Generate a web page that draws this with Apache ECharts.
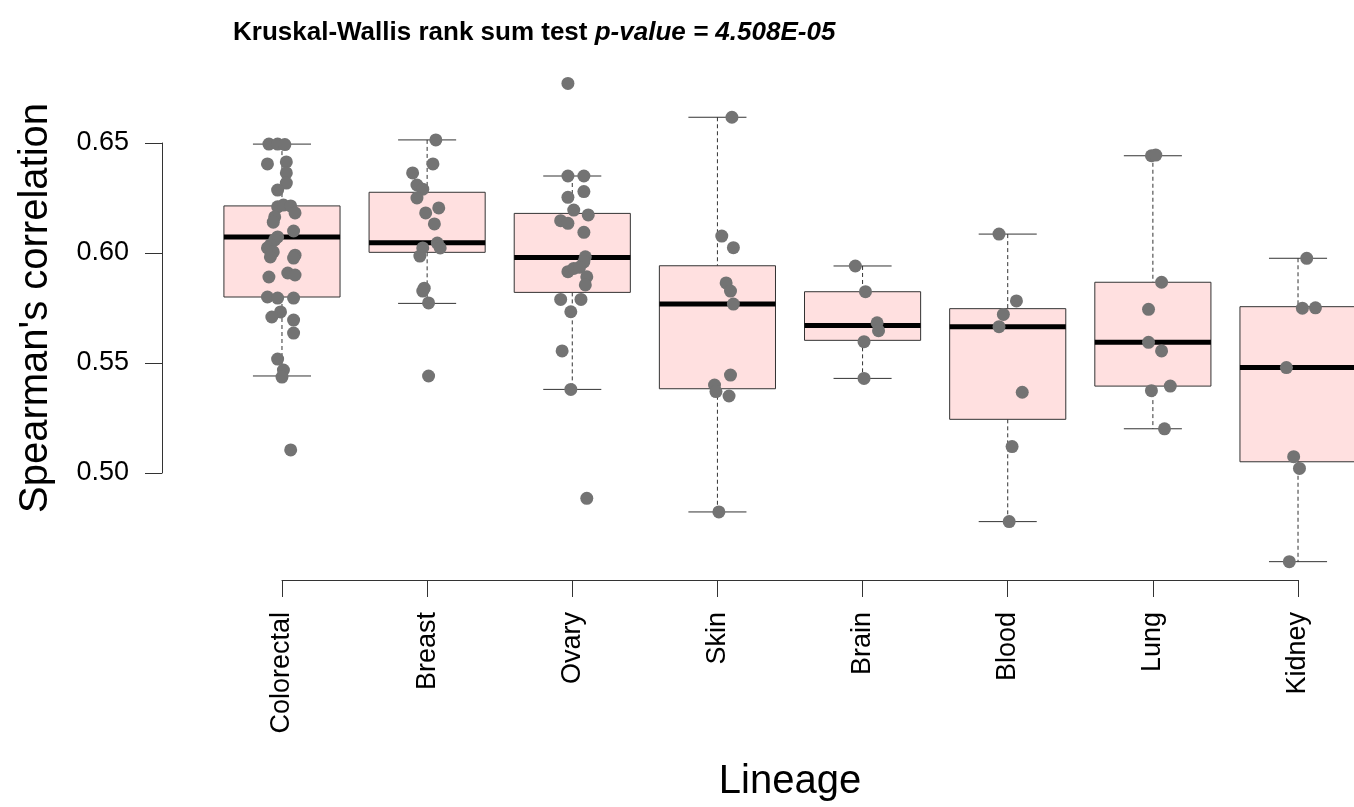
<!DOCTYPE html>
<html>
<head>
<meta charset="utf-8">
<script src="https://cdn.jsdelivr.net/npm/echarts@6/dist/echarts.min.js"></script>
<style>
html,body{margin:0;padding:0;background:#fff;}
#chart{width:1354px;height:807px;}
</style>
</head>
<body>
<div id="chart"></div>
<script>
// ---------- data ----------
var categories = ['Colorectal','Breast','Ovary','Skin','Brain','Blood','Lung','Kidney'];
var yTickValues = [0.50, 0.55, 0.60, 0.65];

// box statistics
var whiskerLow  = [0.5441, 0.5771, 0.5380, 0.4823, 0.5430, 0.4779, 0.5201, 0.4597];
var q1          = [0.5800, 0.6003, 0.5821, 0.5383, 0.5603, 0.5244, 0.5395, 0.5051];
var median      = [0.6073, 0.6047, 0.5980, 0.5768, 0.5670, 0.5665, 0.5594, 0.5479];
var q3          = [0.6214, 0.6276, 0.6180, 0.5942, 0.5824, 0.5747, 0.5867, 0.5756];
var whiskerHigh = [0.6495, 0.6514, 0.6350, 0.6617, 0.5941, 0.6086, 0.6442, 0.5976];

// individual points (values) and horizontal jitter (in category units)
var colorectalVals = [0.6495,0.6495,0.6493,0.6405,0.6414,0.6364,0.6318,0.6286,0.6210,0.6218,0.6214,0.6182,0.6164,0.6140,0.6100,0.6073,0.6060,0.6036,0.6023,0.6005,0.5990,0.5977,0.5982,0.5909,0.5900,0.5891,0.5800,0.5795,0.5795,0.5732,0.5709,0.5695,0.5636,0.5518,0.5468,0.5436,0.5105];
var colorectalJit  = [-0.09,-0.03,0.02,-0.10,0.03,0.03,0.03,-0.03,-0.03,0.01,0.06,0.09,-0.05,-0.06,0.08,-0.03,-0.05,-0.08,-0.10,-0.06,0.09,0.08,-0.08,0.04,0.09,-0.09,-0.10,-0.03,0.08,-0.01,-0.07,0.08,0.08,-0.03,0.01,0.00,0.06];
var breastVals = [0.6514,0.6405,0.6364,0.6309,0.6290,0.6250,0.6205,0.6182,0.6132,0.6045,0.6023,0.6023,0.5986,0.5840,0.5827,0.5773,0.5441];
var breastJit  = [0.06,0.04,-0.10,-0.07,-0.03,-0.07,0.08,-0.01,0.05,0.07,0.09,-0.03,-0.05,-0.02,-0.03,0.01,0.01];
var ovaryVals = [0.6771,0.6350,0.6350,0.6279,0.6253,0.6195,0.6173,0.6147,0.6135,0.6094,0.5983,0.5960,0.5915,0.5930,0.5935,0.5892,0.5855,0.5789,0.5789,0.5733,0.5555,0.5380,0.4885];
var ovaryJit  = [-0.03,-0.03,0.08,0.08,-0.03,0.01,0.11,-0.08,-0.03,0.08,0.09,0.08,-0.03,0.01,0.05,0.10,0.09,-0.08,0.06,-0.01,-0.07,-0.01,0.10];
var skinVals = [0.6617,0.6077,0.6024,0.5864,0.5827,0.5768,0.5445,0.5400,0.5370,0.5350,0.4823];
var skinJit  = [0.10,0.03,0.11,0.06,0.09,0.11,0.09,-0.02,-0.01,0.08,0.01];
var brainVals = [0.5941,0.5824,0.5683,0.5647,0.5597,0.5430];
var brainJit  = [-0.05,0.02,0.10,0.11,0.01,0.01];
var bloodVals = [0.6086,0.5782,0.5721,0.5665,0.5367,0.5120,0.4779];
var bloodJit  = [-0.06,0.06,-0.03,-0.06,0.10,0.03,0.01];
var lungVals = [0.6442,0.6445,0.5867,0.5744,0.5594,0.5555,0.5395,0.5374,0.5201];
var lungJit  = [-0.01,0.02,0.06,-0.03,-0.03,0.06,0.12,-0.01,0.08];
var kidneyVals = [0.5976,0.5749,0.5751,0.5479,0.5074,0.5021,0.4597];
var kidneyJit  = [0.06,0.03,0.12,-0.08,-0.03,0.01,-0.06];

// ---------- build ----------
var groupVals = [colorectalVals, breastVals, ovaryVals, skinVals, brainVals, bloodVals, lungVals, kidneyVals];
var groupJit  = [colorectalJit, breastJit, ovaryJit, skinJit, brainJit, bloodJit, lungJit, kidneyJit];

var boxData = categories.map(function(c, i){
  return [i, whiskerLow[i], q1[i], median[i], q3[i], whiskerHigh[i]];
});
var pointData = [];
groupVals.forEach(function(vals, i){
  vals.forEach(function(v, k){ pointData.push([i + groupJit[i][k], v]); });
});

var FONT = 'Liberation Sans, Arial, sans-serif';
var AX = '#333';

var chart = echarts.init(document.getElementById('chart'), null, {renderer: 'canvas'});
chart.setOption({
  backgroundColor: '#fff',
  animation: false,
  title: {
    left: 228, top: 15,
    text: '{b|Kruskal-Wallis rank sum test }{bi|p-value = 4.508E-05}',
    textStyle: {
      rich: {
        b:  {fontFamily: FONT, fontWeight: 'bold', fontSize: 26, color: '#000'},
        bi: {fontFamily: FONT, fontWeight: 'bold', fontStyle: 'italic', fontSize: 26, color: '#000'}
      }
    }
  },
  grid: [
    {left: 209.4, width: 1161.2, top: 55, height: 550, outerBoundsMode: 'none'},   // data area
    {left: 282, right: 56, top: 500, bottom: 227, outerBoundsMode: 'none'},        // x axis display
    {left: 162, right: 100, top: 143, bottom: 334, outerBoundsMode: 'none'}        // y axis display
  ],
  xAxis: [
    {gridIndex: 0, type: 'value', min: -0.5, max: 7.5, show: false},
    {gridIndex: 1, type: 'category', data: categories, boundaryGap: false,
     axisLine: {show: true, lineStyle: {color: AX, width: 1}},
     axisTick: {show: true, inside: false, length: 17, lineStyle: {color: AX, width: 1}},
     axisLabel: {rotate: 90, margin: 32, fontFamily: FONT, fontSize: 27, color: '#000', interval: 0},
     splitLine: {show: false},
     name: 'Lineage', nameLocation: 'middle', nameGap: 182,
     nameTextStyle: {fontFamily: FONT, fontSize: 40, color: '#000'}},
    {gridIndex: 2, type: 'value', show: false}
  ],
  yAxis: [
    {gridIndex: 0, type: 'value', min: 0.44, max: 0.69, show: false},
    {gridIndex: 1, type: 'value', show: false},
    {gridIndex: 2, type: 'value', min: 0.50, max: 0.65, interval: 0.05,
     axisLine: {show: true, lineStyle: {color: AX, width: 1}},
     axisTick: {show: true, inside: false, length: 17, lineStyle: {color: AX, width: 1}},
     axisLabel: {margin: 33, fontFamily: FONT, fontSize: 27, color: '#000',
       formatter: function(v){ return v.toFixed(2); }},
     splitLine: {show: false},
     name: "Spearman's correlation", nameLocation: 'middle', nameRotate: 90, nameGap: 106,
     nameTextStyle: {fontFamily: FONT, fontSize: 40, color: '#000'}}
  ],
  series: [
    {
      type: 'custom', xAxisIndex: 0, yAxisIndex: 0, clip: false,
      data: boxData,
      encode: {x: 0, y: [1, 2, 3, 4, 5]},
      renderItem: function(params, api){
        var i = api.value(0);
        var pLo = api.coord([i, api.value(1)]);
        var pQ1 = api.coord([i, api.value(2)]);
        var pMd = api.coord([i, api.value(3)]);
        var pQ3 = api.coord([i, api.value(4)]);
        var pHi = api.coord([i, api.value(5)]);
        var half = api.size([0.4, 0])[0];
        var cap = api.size([0.2, 0])[0];
        var cx = pMd[0];
        var dash = {stroke: AX, lineWidth: 1, lineDash: [4, 3]};
        var solid = {stroke: AX, lineWidth: 1};
        return {type: 'group', children: [
          {type: 'line', shape: {x1: cx, y1: pHi[1], x2: cx, y2: pQ3[1]}, style: dash},
          {type: 'line', shape: {x1: cx, y1: pQ1[1], x2: cx, y2: pLo[1]}, style: dash},
          {type: 'line', shape: {x1: cx - cap, y1: pHi[1], x2: cx + cap, y2: pHi[1]}, style: solid},
          {type: 'line', shape: {x1: cx - cap, y1: pLo[1], x2: cx + cap, y2: pLo[1]}, style: solid},
          {type: 'rect', shape: {x: cx - half, y: pQ3[1], width: 2 * half, height: pQ1[1] - pQ3[1]},
           style: {fill: '#FFE0E0', stroke: AX, lineWidth: 1}},
          {type: 'line', shape: {x1: cx - half, y1: pMd[1], x2: cx + half, y2: pMd[1]},
           style: {stroke: '#000', lineWidth: 5}}
        ]};
      },
      z: 2
    },
    {
      type: 'scatter', xAxisIndex: 0, yAxisIndex: 0, clip: false,
      data: pointData,
      symbol: 'circle', symbolSize: 13,
      itemStyle: {color: '#737373', opacity: 1},
      z: 3
    }
  ]
});
</script>
</body>
</html>
